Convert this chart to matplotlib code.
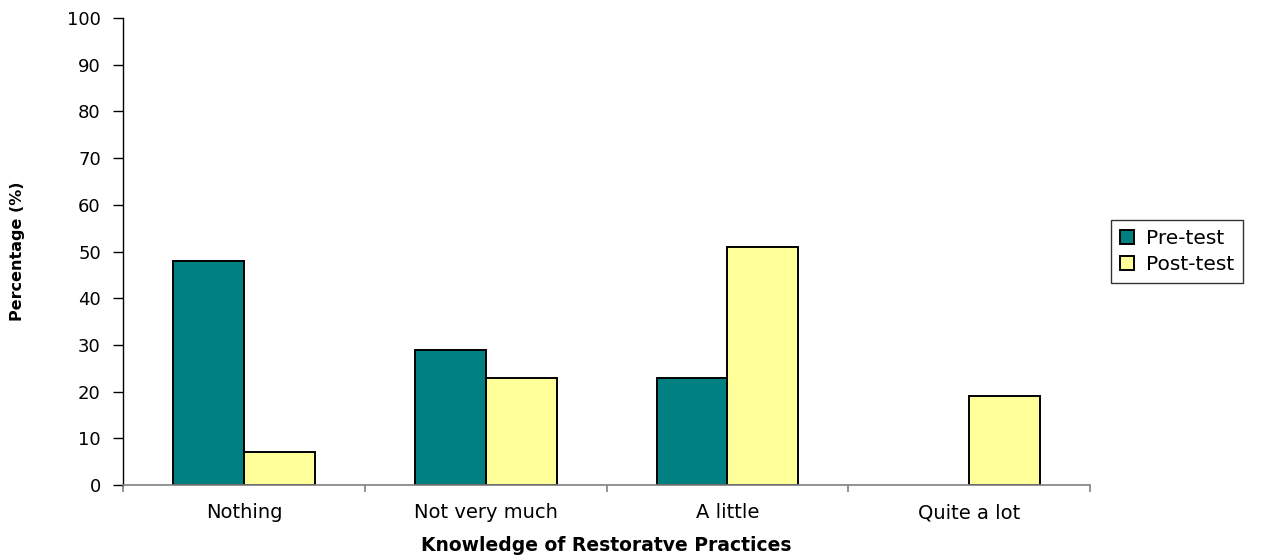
import numpy as np
import matplotlib
matplotlib.use('Agg')
from matplotlib import pyplot as plt

plt.rcParams['font.family'] = ['DejaVu Sans']

categories = ['Nothing', 'Not very much', 'A little', 'Quite a lot']
pre_test = [48, 29, 23, 0]
post_test = [7, 23, 51, 19]

teal = '#008080'
cream = '#FFFF99'

fig = plt.figure(figsize=(12.7, 5.58), dpi=100)
ax = fig.add_axes([0.0969, 0.1308, 0.7614, 0.8369])

x = np.arange(len(categories))
w = 0.293
b1 = ax.bar(x - w/2, pre_test, w, color=teal, edgecolor='black', linewidth=1.4, label='Pre-test')
b2 = ax.bar(x + w/2, post_test, w, color=cream, edgecolor='black', linewidth=1.4, label='Post-test')
# empty bars leave no outline
for bars, vals in [(b1, pre_test), (b2, post_test)]:
    for r, v in zip(bars, vals):
        if v == 0:
            r.set_visible(False)

ax.set_xlim(-0.5, len(categories) - 0.5)
ax.set_ylim(0, 100)
ax.set_yticks(range(0, 101, 10))
ax.set_xticks(x)
ax.set_xticklabels(categories, fontsize=14)
ax.set_xticks(np.arange(-0.5, len(categories), 1), minor=True)
ax.tick_params(axis='x', which='major', length=0, pad=13)
ax.tick_params(axis='x', which='minor', length=5, color='#808080', width=1.2)
ax.tick_params(axis='y', length=7, width=1, labelsize=13, pad=9)

for s in ['top', 'right']:
    ax.spines[s].set_visible(False)
ax.spines['bottom'].set_color('#808080')
ax.spines['bottom'].set_linewidth(1.2)
ax.spines['left'].set_linewidth(1)

ax.set_xlabel('Knowledge of Restoratve Practices', fontsize=13.5, fontweight='bold', labelpad=10)
ax.set_ylabel('Percentage (%)', fontsize=11.5, fontweight='bold', labelpad=30)

leg = ax.legend(loc='center left', bbox_to_anchor=(1.015, 0.5), fontsize=14.5,
                frameon=True, fancybox=False, edgecolor='black',
                handlelength=0.7, handleheight=0.7, handletextpad=0.6,
                borderpad=0.45, labelspacing=0.35, borderaxespad=0.3)
leg.get_frame().set_linewidth(1)

fig.savefig('out.png', dpi=100)
